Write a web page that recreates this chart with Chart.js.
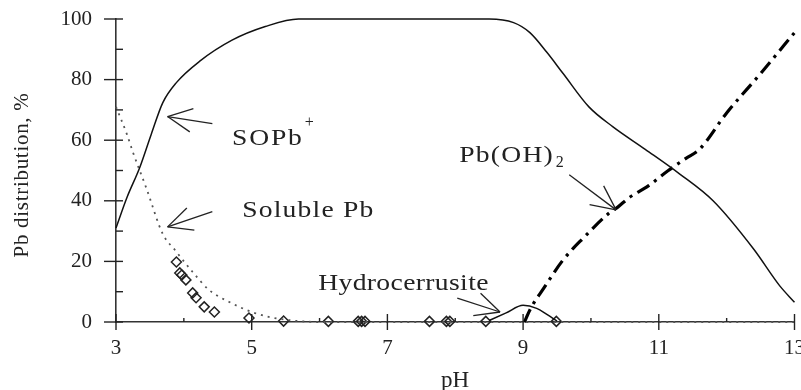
<!DOCTYPE html>
<html>
<head>
<meta charset="utf-8">
<script src="https://cdn.jsdelivr.net/npm/chart.js@4/dist/chart.umd.min.js"></script>
<style>
  html, body { margin: 0; padding: 0; background: #fff; }
</style>
</head>
<body>
<canvas id="chart" width="801" height="390"></canvas>
<script>
// Values: pH on x, Pb distribution (%) on y
const sopbPH  = [3.0, 3.16, 3.35, 3.52, 3.69, 3.89, 4.23, 4.71, 5.2, 5.69, 8.5, 8.86, 9.1, 9.35, 9.59, 9.97, 10.32, 10.8, 11.3, 11.8, 12.4, 12.78, 13.0];
const sopbPct = [31, 41, 51, 62, 72.4, 79, 86, 93, 97.5, 100, 100, 98.8, 95.5, 89, 82, 71, 64.5, 57, 49, 40, 24, 12, 6.5];

const solublePH  = [3.0, 3.16, 3.25, 3.45, 3.69, 3.86, 4.13, 4.37, 4.67, 5.0, 5.25, 5.6, 6.0, 13.0];
const solublePct = [71, 62, 56, 44, 29, 24, 16.5, 10.6, 6.6, 3.3, 1.7, 0.5, 0, 0];

const hydroxPH  = [9.02, 9.1, 9.3, 9.59, 9.9, 10.27, 10.4, 10.56, 10.85, 11.14, 11.4, 11.6, 12.0, 12.5, 13.0];
const hydroxPct = [0, 4, 11, 20.5, 28, 36, 38, 41, 45, 50, 54, 57, 69, 82, 95.5];

const hydroPH  = [8.5, 8.75, 9.0, 9.2, 9.35, 9.5];
const hydroPct = [0.5, 3, 5.5, 4.5, 2.5, 0.3];

// measured soluble Pb (open diamonds)
const measPH  = [3.89, 3.94, 3.97, 4.03, 4.13, 4.18, 4.3, 4.45, 4.96, 5.47, 6.13, 6.57, 6.62, 6.67, 7.62, 7.87, 7.92, 8.45, 9.49];
const measPct = [19.8, 16.2, 15.5, 13.9, 9.6, 8, 5, 3.3, 1.3, 0.3, 0.2, 0.2, 0.2, 0.2, 0.2, 0.2, 0.2, 0.2, 0.2];

const xTicks = [3, 5, 7, 9, 11, 13];
const yTicks = [0, 20, 40, 60, 80, 100];

function pts(xs, ys) {
    return xs.map((v, i) => ({x: v, y: ys[i]}));
}

const FONT = 'Liberation Serif';
const INK = '#222';

// labels and arrows, anchored in data units
const notes = [
    {text: 'SOPb', sup: '+', x: 4.71, y: 58.3, spacing: 1.5},
    {text: 'Soluble Pb', x: 4.86, y: 34.7, spacing: 1},
    {text: 'Pb(OH)', sub: '2', x: 8.06, y: 52.8, spacing: 1},
    {text: 'Hydrocerrusite', x: 5.98, y: 10.6, spacing: 0.3}
];
const arrows = [
    {from: [4.42, 65.5], to: [3.76, 67.8]},
    {from: [4.42, 36.4], to: [3.76, 31.4]},
    {from: [9.68, 48.6], to: [10.37, 37]},
    {from: [8.03, 7.9], to: [8.66, 3.3]}
];

function seg(ctx, x1, y1, x2, y2) {
    ctx.beginPath();
    ctx.moveTo(x1, y1);
    ctx.lineTo(x2, y2);
    ctx.stroke();
}

const decor = {
    id: 'decor',
    afterDatasetsDraw(chart) {
        const {ctx, chartArea, scales: {x, y}} = chart;
        ctx.save();
        ctx.strokeStyle = INK;
        ctx.fillStyle = INK;
        ctx.lineWidth = 1.4;

        // tick marks: majors cross the axis, minors sit inside
        for (let v = 0; v <= 100; v += 10) {
            const py = y.getPixelForValue(v);
            const major = v % 20 === 0;
            seg(ctx, chartArea.left - (major ? 12 : 0), py, chartArea.left + 7, py);
        }
        for (let v = 3; v <= 13; v++) {
            const px = x.getPixelForValue(v);
            const major = v % 2 === 1;
            seg(ctx, px, chartArea.bottom - (major ? 8 : 4), px, chartArea.bottom + (major ? 8 : 0));
        }

        // arrows
        ctx.lineWidth = 1.3;
        arrows.forEach(a => {
            const x1 = x.getPixelForValue(a.from[0]), y1 = y.getPixelForValue(a.from[1]);
            const x2 = x.getPixelForValue(a.to[0]), y2 = y.getPixelForValue(a.to[1]);
            seg(ctx, x1, y1, x2, y2);
            const ang = Math.atan2(y1 - y2, x1 - x2);
            const len = 27, spread = 0.45;
            seg(ctx, x2, y2, x2 + len * Math.cos(ang + spread), y2 + len * Math.sin(ang + spread));
            seg(ctx, x2, y2, x2 + len * Math.cos(ang - spread), y2 + len * Math.sin(ang - spread));
        });

        // annotation text (the original type is a little wide, so stretch it)
        ctx.textBaseline = 'alphabetic';
        ctx.textAlign = 'left';
        const stretch = 1.2;
        notes.forEach(n => {
            const px = x.getPixelForValue(n.x), py = y.getPixelForValue(n.y);
            ctx.save();
            ctx.translate(px, py);
            ctx.scale(stretch, 1);
            ctx.font = '23px "' + FONT + '"';
            ctx.letterSpacing = n.spacing + 'px';
            ctx.fillText(n.text, 0, 0);
            const w = (ctx.measureText(n.text).width - n.spacing) * stretch;
            ctx.restore();
            ctx.font = '16px "' + FONT + '"';
            ctx.letterSpacing = '0px';
            if (n.sup) ctx.fillText(n.sup, px + w + 3, py - 18);
            if (n.sub) ctx.fillText(n.sub, px + w + 3, py + 5);
        });

        // axis titles
        ctx.textAlign = 'center';
        ctx.textBaseline = 'middle';
        ctx.font = '23px "' + FONT + '"';
        ctx.letterSpacing = '0px';
        ctx.fillText('pH', 455, 381);
        ctx.font = '21px "' + FONT + '"';
        ctx.letterSpacing = '0.7px';
        ctx.translate(22, 175);
        ctx.rotate(-Math.PI / 2);
        ctx.fillText('Pb distribution, %', 0, 0);
        ctx.restore();
    }
};

new Chart(document.getElementById('chart').getContext('2d'), {
    type: 'line',
    data: {
        datasets: [
            {
                label: 'SOPb+',
                data: pts(sopbPH, sopbPct),
                borderColor: '#111',
                borderWidth: 1.5,
                pointRadius: 0,
                cubicInterpolationMode: 'monotone',
                clip: false
            },
            {
                label: 'Soluble Pb',
                data: pts(solublePH, solublePct),
                borderColor: '#555',
                borderWidth: 1.8,
                borderDash: [2, 5],
                pointRadius: 0,
                cubicInterpolationMode: 'monotone',
                clip: false
            },
            {
                label: 'Pb(OH)2',
                data: pts(hydroxPH, hydroxPct),
                borderColor: '#000',
                borderWidth: 3.2,
                borderDash: [14, 6, 3, 6],
                pointRadius: 0,
                cubicInterpolationMode: 'monotone',
                clip: false
            },
            {
                label: 'Hydrocerrusite',
                data: pts(hydroPH, hydroPct),
                borderColor: '#111',
                borderWidth: 1.5,
                pointRadius: 0,
                cubicInterpolationMode: 'monotone',
                clip: false
            },
            {
                label: 'Measured',
                data: pts(measPH, measPct),
                showLine: false,
                pointStyle: 'rectRot',
                pointRadius: 5,
                pointBorderWidth: 1.5,
                pointBorderColor: '#222',
                pointBackgroundColor: 'rgba(255,255,255,0)',
                clip: false
            }
        ]
    },
    options: {
        responsive: false,
        animation: false,
        layout: { padding: { top: 19, right: 1, bottom: 0, left: 0 } },
        plugins: {
            legend: { display: false },
            tooltip: { enabled: false }
        },
        scales: {
            x: {
                type: 'linear',
                min: 3,
                max: 13,
                grid: { display: false, drawTicks: false },
                border: { display: true, color: '#333', width: 1.6 },
                ticks: {
                    stepSize: 1,
                    autoSkip: false,
                    maxRotation: 0,
                    padding: 14,
                    color: INK,
                    font: { family: FONT, size: 21 },
                    callback: v => xTicks.includes(v) ? v : ''
                },
                afterFit: s => { s.height = 68; s.paddingLeft = 0; s.paddingRight = 0; }
            },
            y: {
                min: 0,
                max: 100,
                grid: { display: false, drawTicks: false },
                border: { display: true, color: '#333', width: 1.6 },
                ticks: {
                    stepSize: 10,
                    autoSkip: false,
                    padding: 24,
                    color: INK,
                    font: { family: FONT, size: 21 },
                    callback: v => yTicks.includes(v) ? v : ''
                },
                afterFit: s => { s.width = 116; s.paddingTop = 0; s.paddingBottom = 0; }
            }
        }
    },
    plugins: [decor]
});
</script>
</body>
</html>
